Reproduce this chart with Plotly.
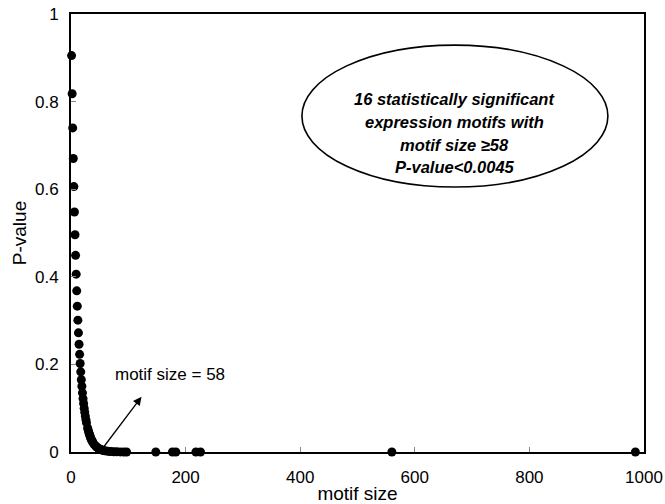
import plotly.graph_objects as go

# Motif sizes and their P-values
motif_size = [
    1, 2, 3, 4, 5, 6, 7, 8, 9, 10,
    11, 12, 13, 14, 15, 16, 17, 18, 19, 20,
    21, 22, 23, 24, 25, 26, 27,
    29, 30, 31, 32, 33, 34, 35, 36, 37, 38,
    40, 42, 44, 46, 48, 50, 52, 54, 56,
    58, 62, 66, 70, 75, 80, 86, 92, 97,
    148, 177, 183, 218, 226, 560, 985,
]
p_value = [
    0.905, 0.818, 0.740, 0.670, 0.606, 0.548, 0.496, 0.449, 0.406, 0.368,
    0.333, 0.301, 0.272, 0.246, 0.223, 0.202, 0.183, 0.165, 0.150, 0.135,
    0.122, 0.111, 0.100, 0.091, 0.082, 0.074, 0.067,
    0.055, 0.050, 0.045, 0.041, 0.037, 0.033, 0.030, 0.027, 0.025, 0.022,
    0.018, 0.015, 0.012, 0.010, 0.008, 0.007, 0.0055, 0.0045, 0.0037,
    0.0030, 0.0020, 0.0014, 0.0009, 0.0006, 0.0003, 0.0002, 0.0001, 0.0001,
    0.00005, 0.00003, 0.00003, 0.00002, 0.00002, 0.00001, 0.00001,
]

x_ticks = [0, 200, 400, 600, 800, 1000]
y_ticks = [0, 0.2, 0.4, 0.6, 0.8, 1]
y_tick_labels = ["0", "0.2", "0.4", "0.6", "0.8", "1"]

summary_lines = [
    "16 statistically significant",
    "expression motifs with",
    "motif size \u226558",
    "P-value<0.0045",
]

FONT = "Liberation Sans, Arial, sans-serif"

fig = go.Figure()
fig.add_trace(go.Scatter(
    x=motif_size, y=p_value, mode="markers",
    marker=dict(color="black", size=9, line=dict(width=0)),
    showlegend=False, cliponaxis=False,
))

# Ellipse around the summary text
fig.add_shape(type="circle", xref="x", yref="y",
              x0=403, x1=937, y0=0.605, y1=0.929,
              line=dict(color="black", width=1.6), fillcolor="rgba(0,0,0,0)")

line_y = [0.806, 0.753, 0.700, 0.650]
for txt, yy in zip(summary_lines, line_y):
    fig.add_annotation(x=670, y=yy, xref="x", yref="y", text=f"<b><i>{txt}</i></b>",
                       showarrow=False, font=dict(family=FONT, size=16.5, color="black"))

# Arrow pointing to the motif size threshold
fig.add_annotation(x=123, y=0.126, ax=55, ay=0.008, xref="x", yref="y",
                   axref="x", ayref="y", text="", showarrow=True,
                   arrowhead=2, arrowsize=1.3, arrowwidth=1.3, arrowcolor="black")
fig.add_annotation(x=172, y=0.176, xref="x", yref="y", text="motif size = 58",
                   showarrow=False, font=dict(family=FONT, size=17, color="black"))

fig.update_layout(
    width=665, height=504,
    margin=dict(l=71, r=21, t=14, b=52),
    paper_bgcolor="white", plot_bgcolor="white",
    font=dict(family=FONT, color="black"),
    xaxis=dict(
        range=[0, 1000], tickvals=x_ticks, ticks="inside", ticklen=5,
        tickcolor="#888", tickwidth=1, showgrid=False, zeroline=False,
        showline=True, linecolor="black", linewidth=2, mirror=True,
        ticklabelstandoff=9, automargin=False,
        tickfont=dict(family=FONT, size=17, color="black"),
        title=dict(text="motif size", font=dict(family=FONT, size=19, color="black"),
                   standoff=4),
    ),
    yaxis=dict(
        range=[0, 1], tickvals=y_ticks, ticktext=y_tick_labels, ticks="inside",
        ticklen=5, tickcolor="#888", tickwidth=1, showgrid=False, zeroline=False,
        showline=True, linecolor="black", linewidth=2, mirror=True,
        ticklabelstandoff=7, automargin=False,
        tickfont=dict(family=FONT, size=17, color="black"),
        title=dict(text="P-value", font=dict(family=FONT, size=19, color="black"),
                   standoff=3),
    ),
)

fig.write_html("out.html")
